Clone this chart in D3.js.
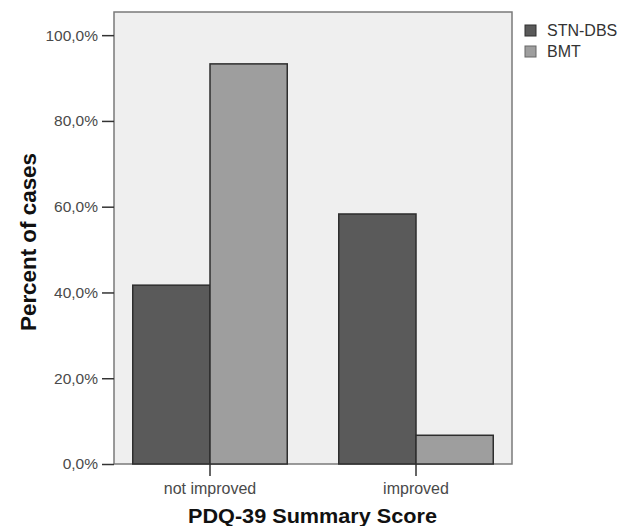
<!DOCTYPE html>
<html>
<head>
<meta charset="utf-8">
<script src="https://cdn.jsdelivr.net/npm/d3@7/dist/d3.min.js"></script>
<style>
html,body{margin:0;padding:0;background:#fff;}
svg{display:block;font-family:"Liberation Sans",Arial,sans-serif;}
</style>
</head>
<body>
<svg id="chart" width="628" height="526"></svg>
<script>
const categories = ["not improved", "improved"];
const seriesNames = ["STN-DBS", "BMT"];
const stnValues = [41.7, 58.3];
const bmtValues = [93.3, 6.7];
const yTicks = [0, 20, 40, 60, 80, 100];
const seriesColors = ["#5a5a5a", "#9e9e9e"];
const xTitle = "PDQ-39 Summary Score";
const yTitle = "Percent of cases";

const svg = d3.select("#chart");
const plot = {left: 114, top: 12, right: 512, bottom: 464};

const x = d3.scaleBand().domain(categories).range([107, 519]).paddingInner(0.25).paddingOuter(0.125);
const xs = d3.scaleBand().domain(seriesNames).range([0, x.bandwidth()]);
const y = d3.scaleLinear().domain([0, 105.4]).range([plot.bottom, plot.top]);
const color = d3.scaleOrdinal().domain(seriesNames).range(seriesColors);

const loc = d3.formatLocale({decimal: ",", thousands: ".", grouping: [3], currency: ["", "€"]});
const fmt = loc.format(".1f");

// plot background
svg.append("rect")
  .attr("x", plot.left).attr("y", plot.top)
  .attr("width", plot.right - plot.left).attr("height", plot.bottom - plot.top)
  .attr("fill", "#efefef").attr("stroke", "#7a7a7a").attr("stroke-width", 1.5);

const data = categories.map((c, i) => ({cat: c, values: [
  {s: seriesNames[0], v: stnValues[i]},
  {s: seriesNames[1], v: bmtValues[i]}
]}));

const groups = svg.append("g").selectAll("g").data(data).join("g")
  .attr("transform", d => `translate(${x(d.cat)},0)`);
groups.selectAll("rect").data(d => d.values).join("rect")
  .attr("x", d => xs(d.s))
  .attr("y", d => y(d.v))
  .attr("width", xs.bandwidth())
  .attr("height", d => y(0) - y(d.v))
  .attr("fill", d => color(d.s))
  .attr("stroke", "#2e2e2e")
  .attr("stroke-width", 1.5);

// y axis
const yAxis = svg.append("g").attr("transform", `translate(${plot.left},0)`)
  .call(d3.axisLeft(y).tickValues(yTicks).tickSize(12).tickPadding(4).tickFormat(d => fmt(d) + "%"));
yAxis.select(".domain").remove();
yAxis.selectAll(".tick line").attr("stroke", "#333").attr("stroke-width", 1.5);
yAxis.selectAll(".tick text").attr("fill", "#4a4a4a").attr("font-size", "15.5px")
  .attr("font-family", "Liberation Sans, Arial, sans-serif");

// x axis
const xAxis = svg.append("g").attr("transform", `translate(0,${plot.bottom})`)
  .call(d3.axisBottom(x).tickSize(12).tickPadding(7));
xAxis.select(".domain").remove();
xAxis.selectAll(".tick line").attr("stroke", "#333").attr("stroke-width", 1.5);
xAxis.selectAll(".tick text").attr("fill", "#4a4a4a").attr("font-size", "16px")
  .attr("font-family", "Liberation Sans, Arial, sans-serif");

// axis titles
svg.append("text").attr("x", 312.5).attr("y", 523).attr("text-anchor", "middle")
  .attr("font-weight", "bold").attr("font-size", "21px").attr("fill", "#111")
  .attr("textLength", 249).attr("lengthAdjust", "spacingAndGlyphs").text(xTitle);
svg.append("text").attr("transform", "translate(36,242) rotate(-90)").attr("text-anchor", "middle")
  .attr("font-weight", "bold").attr("font-size", "22px").attr("fill", "#111")
  .attr("textLength", 178).attr("lengthAdjust", "spacingAndGlyphs").text(yTitle);

// legend
const legend = svg.append("g").attr("transform", "translate(525,25)");
const li = legend.selectAll("g").data(seriesNames).join("g")
  .attr("transform", (d, i) => `translate(0,${i * 21})`);
li.append("rect").attr("width", 11).attr("height", 11)
  .attr("fill", d => color(d)).attr("stroke", (d, i) => i === 0 ? "#2e2e2e" : "#666").attr("stroke-width", 1);
li.append("text").attr("x", 22).attr("y", 11).attr("font-size", "16px").attr("fill", "#333").text(d => d);
</script>
</body>
</html>
